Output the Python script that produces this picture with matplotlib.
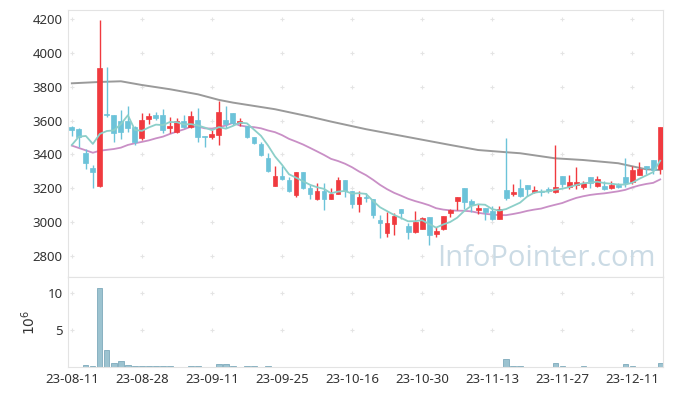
import matplotlib
matplotlib.use("Agg")
import matplotlib.pyplot as plt
import numpy as np
import pandas as pd

# daily candles, 23-08-11 .. 23-12-15 (trading days only)
dates = ["23-08-11", "23-08-28", "23-09-11", "23-09-25", "23-10-16",
         "23-10-30", "23-11-13", "23-11-27", "23-12-11"]
opens = [3562, 3550, 3410, 3320, 3216, 3640, 3633, 3600, 3598, 3560,
         3495, 3611, 3633, 3635, 3558, 3531, 3598, 3562, 3603, 3509,
         3505, 3517, 3603, 3645, 3586, 3570, 3503, 3462, 3381, 3214,
         3273, 3249, 3161, 3296, 3200, 3137, 3184, 3137, 3166, 3249,
         3184, 3109, 3151, 3137, 3013, 2938, 2991, 3076, 2977, 2944,
         2960, 3029, 2930, 2958, 3056, 3127, 3200, 3125, 3072, 3084,
         3066, 3021, 3190, 3164, 3202, 3220, 3180, 3186, 3196, 3180,
         3273, 3210, 3220, 3210, 3267, 3216, 3214, 3204, 3222, 3267,
         3235, 3281, 3332, 3367, 3312]
highs = [3568, 3555, 3430, 3338, 4194, 3918, 3633, 3662, 3686, 3565,
         3643, 3643, 3651, 3666, 3623, 3613, 3633, 3659, 3672, 3509,
         3544, 3718, 3686, 3645, 3613, 3570, 3503, 3476, 3407, 3332,
         3332, 3269, 3296, 3296, 3220, 3229, 3229, 3200, 3265, 3249,
         3184, 3184, 3170, 3137, 3042, 3062, 3052, 3076, 2993, 3068,
         3029, 3029, 2973, 3036, 3076, 3149, 3200, 3135, 3105, 3084,
         3096, 3096, 3495, 3224, 3257, 3220, 3216, 3194, 3210, 3456,
         3273, 3279, 3328, 3245, 3267, 3273, 3245, 3245, 3233, 3377,
         3332, 3357, 3332, 3367, 3564]
lows = [3510, 3446, 3312, 3200, 3210, 3620, 3472, 3490, 3535, 3455,
        3485, 3580, 3603, 3525, 3525, 3525, 3554, 3554, 3475, 3446,
        3489, 3454, 3554, 3574, 3568, 3495, 3460, 3391, 3298, 3214,
        3249, 3180, 3147, 3194, 3135, 3131, 3072, 3135, 3166, 3151,
        3082, 3062, 3121, 3023, 2905, 2914, 2924, 3017, 2899, 2934,
        2958, 2865, 2914, 2954, 3029, 3072, 3076, 3062, 3046, 3013,
        3013, 3017, 3131, 3155, 3151, 3155, 3174, 3155, 3174, 3170,
        3206, 3194, 3194, 3194, 3200, 3206, 3190, 3194, 3200, 3206,
        3226, 3277, 3285, 3285, 3285]
closes = [3546, 3505, 3351, 3296, 3909, 3630, 3525, 3535, 3558, 3476,
          3602, 3627, 3617, 3544, 3568, 3596, 3560, 3627, 3505, 3503,
          3521, 3651, 3580, 3588, 3598, 3501, 3466, 3397, 3304, 3273,
          3255, 3186, 3296, 3200, 3166, 3184, 3137, 3166, 3249, 3184,
          3107, 3149, 3145, 3042, 2997, 2993, 3036, 3056, 2944, 2999,
          3023, 2924, 2948, 3036, 3072, 3149, 3121, 3100, 3084, 3060,
          3021, 3076, 3145, 3178, 3157, 3198, 3190, 3178, 3182, 3210,
          3226, 3239, 3239, 3233, 3229, 3255, 3198, 3220, 3208, 3229,
          3308, 3314, 3320, 3308, 3564]
# volume in millions of shares
volume = [0.05, 0.02, 0.25, 0.1, 10.7, 2.3, 0.6, 0.75, 0.25, 0.08,
          0.08, 0.08, 0.08, 0.08, 0.08, 0.02, 0.02, 0.08, 0.08, 0.02,
          0.02, 0.45, 0.35, 0.1, 0.02, 0.08, 0.08, 0.02, 0.08, 0.02,
          0.02, 0.02, 0.02, 0.02, 0.02, 0.02, 0.02, 0.02, 0.02, 0.02,
          0.02, 0.02, 0.02, 0.02, 0.02, 0.02, 0.02, 0.02, 0.02, 0.02,
          0.02, 0.02, 0.02, 0.02, 0.02, 0.02, 0.02, 0.02, 0.02, 0.02,
          0.02, 0.02, 1.1, 0.1, 0.1, 0.02, 0.02, 0.02, 0.02, 0.5,
          0.1, 0.02, 0.02, 0.1, 0.02, 0.02, 0.02, 0.02, 0.02, 0.4,
          0.1, 0.02, 0.02, 0.02, 0.6]
# moving averages before enough in-window history
ma5_head = [3456, 3505, 3509, 3462]
ma20_head = [3452, 3438, 3424, 3410, 3422, 3427, 3432, 3440, 3456, 3466,
             3474, 3483, 3495, 3505, 3521, 3535, 3548, 3564, 3564]
# long moving average, read at a few candles
ma_long_idx = [0, 4, 7, 10, 14, 18, 21, 23, 29, 34, 37, 42, 54, 58, 62, 64,
               69, 73, 78, 82, 84]
ma_long_val = [3820, 3828, 3832, 3810, 3785, 3755, 3722, 3706, 3667, 3623,
               3594, 3549, 3456, 3426, 3413, 3407, 3377, 3367, 3348, 3312, 3308]

UP, DOWN = "#f03a3f", "#6cc3d9"
GRID = "#e4e4e4"
SPINE = "#e3e3e3"

plt.rcParams["font.family"] = ["Noto Sans", "DejaVu Sans"]

o, h, l, c = map(np.array, (opens, highs, lows, closes))
x = np.arange(len(c))
up = c >= o
colors = np.where(up, UP, DOWN)

s = pd.Series(c, dtype=float)
ma5 = s.rolling(5).mean().to_numpy()
ma5[:len(ma5_head)] = ma5_head
ma20 = s.rolling(20).mean().to_numpy()
ma20[:len(ma20_head)] = ma20_head

fig = plt.figure(figsize=(6.73, 3.96), dpi=100)
ax = fig.add_axes([68 / 673, 1 - 277 / 396, 595 / 673, 267 / 396])
axv = fig.add_axes([68 / 673, 1 - 367 / 396, 595 / 673, 90 / 396], sharex=ax)

ax.vlines(x, l, h, colors=colors, linewidth=1, zorder=3)
body = np.maximum(np.abs(c - o), 4)
ax.bar(x, body, bottom=np.minimum(o, c), width=0.7, color=colors,
       edgecolor=colors, linewidth=0.5, zorder=4)

ax.plot(x, ma5, color="#8ccfc9", lw=1.3, zorder=5)
ax.plot(x, ma20, color="#c98fc6", lw=1.3, zorder=2)
ax.plot(ma_long_idx, ma_long_val, color="#9a9a9a", lw=1.4, zorder=2)

xt = np.arange(0, len(c), 10)
yt = np.arange(2800, 4201, 200)
ax.set_xlim(-0.55, 84.4)
ax.set_ylim(2676, 4253)
ax.set_yticks(yt)
ax.set_yticklabels([str(v) for v in yt])
gx, gy = np.meshgrid(xt, yt)
ax.scatter(gx.ravel(), gy.ravel(), marker="+", s=12, color=GRID, lw=0.8, zorder=1)

ax.text(0.988, 0.015, "InfoPointer.com", transform=ax.transAxes, ha="right",
        va="bottom", fontsize=21, color="#cbdbe5", family="Open Sans", zorder=6)

axv.bar(x, volume, width=0.75, color="#9cc3d0", edgecolor="#7eaabb", linewidth=0.6)
axv.set_ylim(0, 12.2)
axv.set_yticks([5, 10])
axv.set_yticklabels(["5", "10"])
vx, vy = np.meshgrid(xt, [5, 10])
axv.scatter(vx.ravel(), vy.ravel(), marker="+", s=12, color=GRID, lw=0.8, zorder=0)
axv.set_ylabel("$10^6$", fontsize=10, color="#333333", labelpad=6)
axv.set_xticks(xt)
axv.set_xticklabels(dates)

for a in (ax, axv):
    for sp in a.spines.values():
        sp.set_color(SPINE)
    a.tick_params(length=0, labelsize=9.5, labelcolor="#333333", pad=4)
ax.tick_params(labelbottom=False)

fig.savefig("out.png", dpi=100)
